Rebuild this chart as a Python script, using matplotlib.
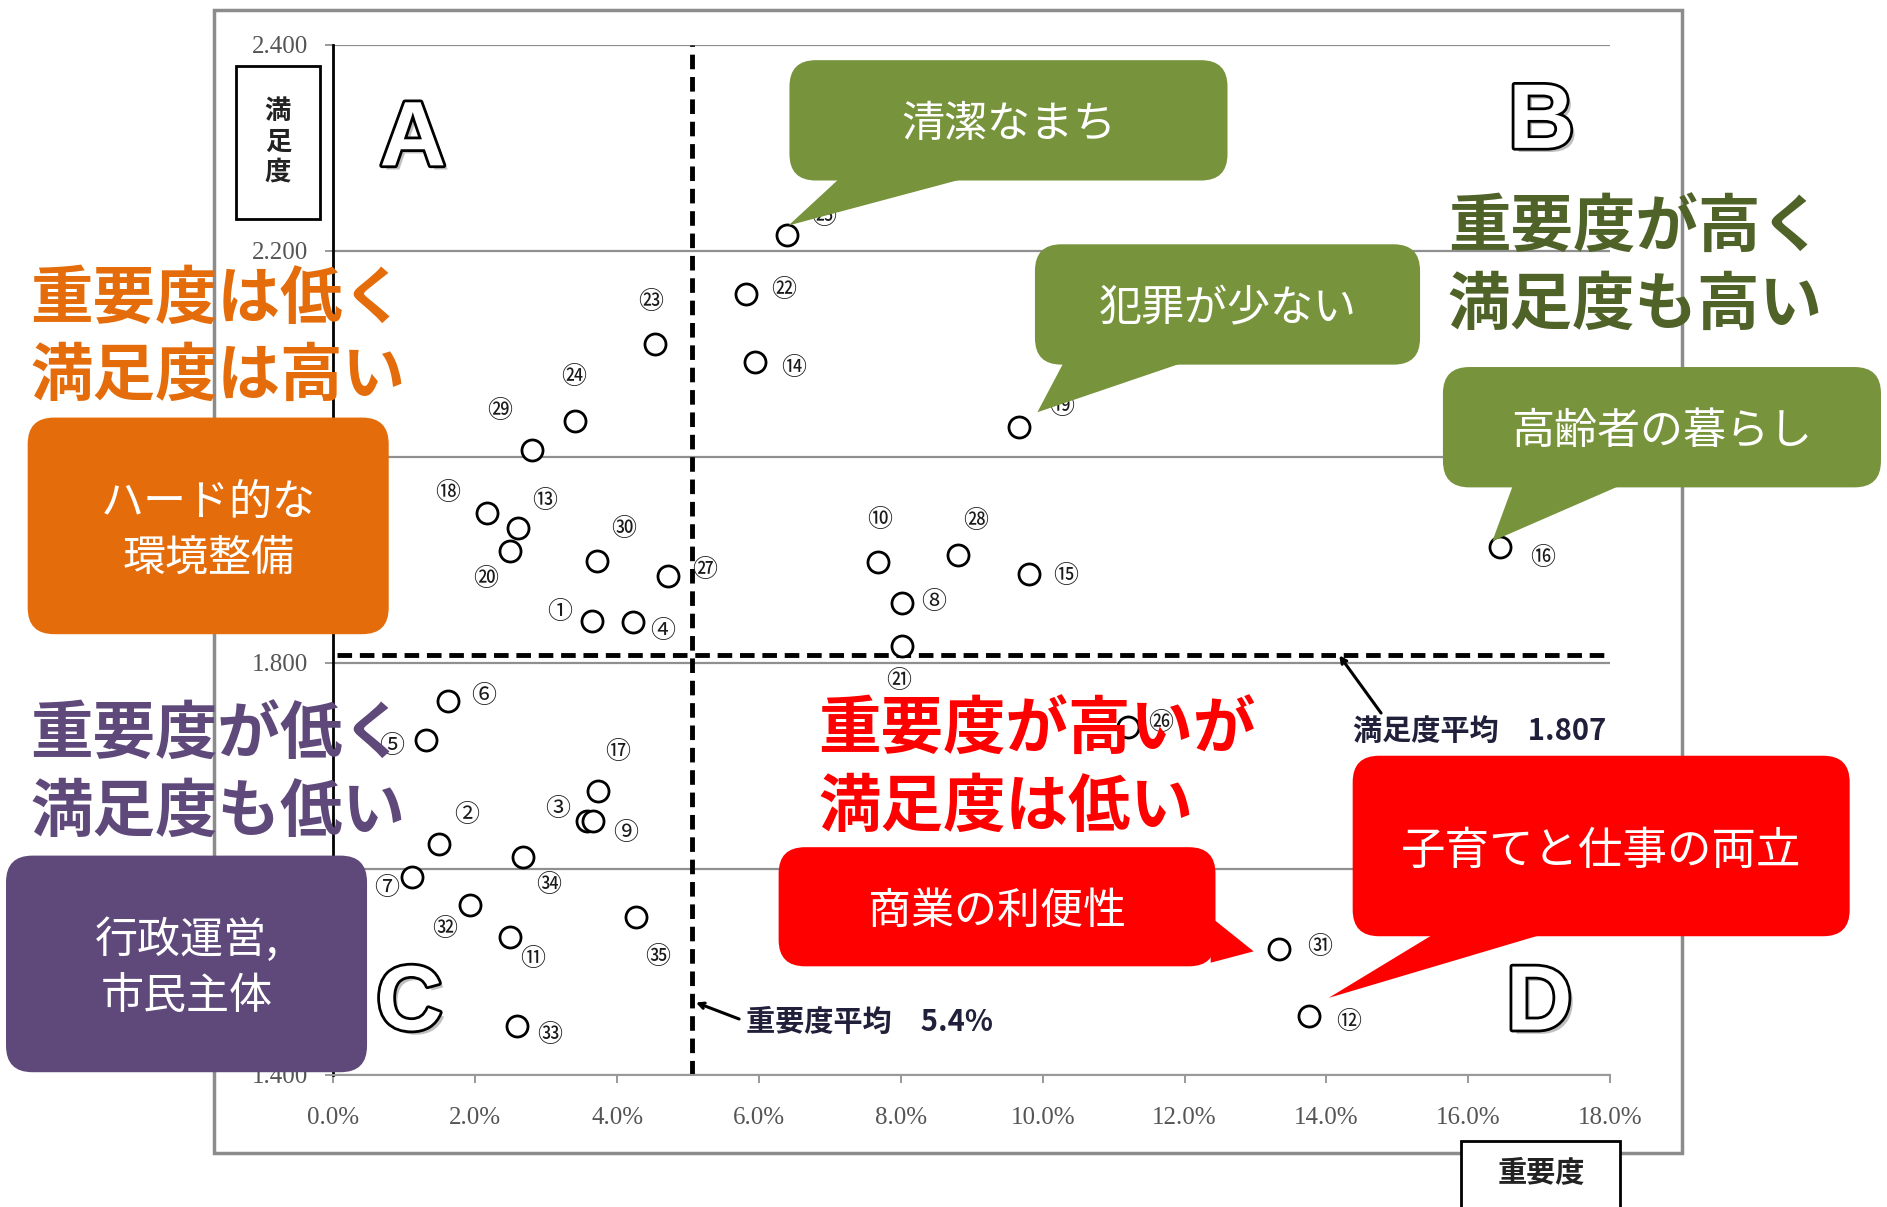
import matplotlib
matplotlib.use('Agg')
import matplotlib.pyplot as plt
import matplotlib.patheffects as pe
from matplotlib.patches import FancyBboxPatch, Polygon, Rectangle

plt.rcParams['font.family'] = ['Noto Sans CJK JP', 'DejaVu Sans']

# --- data ---
item_no = list(range(1, 36))
importance = [3.65, 1.49, 3.57, 4.22, 1.30, 1.61, 1.11, 8.01, 3.66, 7.68,
              2.49, 13.76, 2.61, 5.95, 9.80, 16.44, 3.73, 2.17, 9.67, 2.49,
              8.01, 5.82, 4.53, 3.41, 6.40, 11.20, 4.72, 8.80, 2.80, 3.72,
              13.33, 1.92, 2.59, 2.68, 4.27]
satisfaction = [1.840, 1.624, 1.646, 1.839, 1.725, 1.763, 1.592, 1.858, 1.646, 1.898,
                1.534, 1.457, 1.931, 2.092, 1.886, 1.912, 1.675, 1.945, 2.029, 1.908,
                1.816, 2.158, 2.109, 2.035, 2.215, 1.737, 1.884, 1.904, 2.006, 1.899,
                1.522, 1.565, 1.447, 1.611, 1.553]
importance_line = 5.05      # where the dashed line is drawn in the source
importance_mean_text = '5.4%'
satisfaction_mean = 1.807

x_ticks = [0, 2, 4, 6, 8, 10, 12, 14, 16, 18]
y_ticks = [1.4, 1.6, 1.8, 2.0, 2.2, 2.4]
x_tick_labels = [f'{v:.1f}%' for v in x_ticks]
y_tick_labels = [f'{v:.3f}' for v in y_ticks]

# label offsets around each circle (reference px, +dy = down)
label_offsets = [(-27, -8), (23, -24), (-24, -10), (25, 7), (-28, 5), (30, -4), (-21, 9),
                 (27, -1), (27, 10), (1, -35), (19, 19), (33, 5), (22, -22), (32, 5),
                 (31, 2), (36, 9), (16, -33), (-33, -17), (35, -16), (-20, 23), (-2, 29),
                 (31, -3), (-3, -35), (-1, -36), (30, -15), (27, -4), (30, -5), (15, -29),
                 (-27, -33), (22, -26), (34, -2), (-21, 20), (27, 7), (21, 23), (18, 33)]

W, H = 1568, 1003   # reference frame used for layout


def fx(px):
    return px / W


def fy(py):
    return 1 - py / H


def circled(n):
    return chr(0x2460 + n - 1) if n <= 20 else chr(0x3251 + n - 21)


PX2PT = 1887 / W * 72 / 100

fig = plt.figure(figsize=(18.87, 12.07), dpi=100)
fig.patch.set_facecolor('white')

# outer chart frame
fig.add_artist(Rectangle((fx(178), fy(958)), fx(1398) - fx(178), fy(8) - fy(958),
                         transform=fig.transFigure, fill=False, ec='#8c8c8c', lw=2.5, zorder=0.5))

ax = fig.add_axes([fx(277), fy(893), fx(1338) - fx(277), fy(37) - fy(893)])
ax.set_xlim(0, 18)
ax.set_ylim(1.4, 2.4)
ax.set_xticks(x_ticks, x_tick_labels, fontfamily='Liberation Serif', fontsize=18, color='#555555')
ax.set_yticks(y_ticks, y_tick_labels, fontfamily='Liberation Serif', fontsize=18, color='#555555')
ax.tick_params(axis='both', direction='out', length=6, width=1.2, color='#888888', pad=12)
ax.tick_params(axis='x', pad=17)
ax.yaxis.grid(True, color='#8f8f8f', lw=1.6)
ax.set_axisbelow(True)
for s in ['top', 'right']:
    ax.spines[s].set_visible(False)
ax.spines['left'].set_color('black')
ax.spines['left'].set_linewidth(2)
ax.spines['bottom'].set_color('#999999')
ax.spines['bottom'].set_linewidth(1.5)

ax.axvline(importance_line, color='black', lw=3.5, ls=(0, (3, 1.6)), zorder=2)
ax.plot([0.05, 18], [satisfaction_mean, satisfaction_mean], color='black', lw=3.5,
        ls=(0, (3, 1.6)), zorder=2)

ax.scatter(importance, satisfaction, s=230, facecolors='white', edgecolors='black',
           linewidths=2, zorder=3)
for n, x, y, (dx, dy) in zip(item_no, importance, satisfaction, label_offsets):
    ax.annotate(circled(n), (x, y), xytext=(dx * PX2PT, -dy * PX2PT), textcoords='offset points',
                ha='center', va='center', fontsize=18, color='#1a1a1a', zorder=4)

# mean annotations
ax.annotate('', xy=(14.18, satisfaction_mean), xytext=(14.77, 1.751),
            arrowprops=dict(arrowstyle='->', lw=2.2, color='black', shrinkA=0, shrinkB=0))
ax.text(14.38, 1.734, f'満足度平均　{satisfaction_mean:.3f}', va='center', ha='left',
        fontsize=21, color='#20203a', fontweight='bold')
ax.annotate('', xy=(5.11, 1.470), xytext=(5.72, 1.454),
            arrowprops=dict(arrowstyle='->', lw=2.2, color='black', shrinkA=0, shrinkB=0))
ax.text(5.82, 1.451, f'重要度平均　{importance_mean_text}', va='center', ha='left',
        fontsize=21, color='#20203a', fontweight='bold')

# quadrant letters
outline = [pe.withSimplePatchShadow(offset=(3, -3), alpha=0.35),
           pe.withStroke(linewidth=4, foreground='black')]
for letter, lx, ly in [('A', 1.12, 2.306), ('B', 17.03, 2.323), ('C', 1.07, 1.467), ('D', 17.0, 1.467)]:
    ax.text(lx, ly, letter, ha='center', va='center', fontsize=66, fontweight='bold',
            fontfamily='Liberation Sans', color='white', path_effects=outline, zorder=2)

# axis title boxes
fig.add_artist(Rectangle((fx(196), fy(182)), fx(266) - fx(196), fy(55) - fy(182),
                         transform=fig.transFigure, fc='white', ec='black', lw=2, zorder=2))
fig.text(fx(231), fy(118), '満\n足\n度', ha='center', va='center', fontsize=19,
         fontweight='bold', linespacing=1.15, color='#222222', zorder=3)
fig.add_artist(Rectangle((fx(1214), fy(1010)), fx(1346) - fx(1214), fy(948) - fy(1010),
                         transform=fig.transFigure, fc='white', ec='black', lw=2, zorder=2))
fig.text(fx(1281), fy(974), '重要度', ha='center', va='center', fontsize=21,
         fontweight='bold', color='#222222', zorder=3)

# callouts
GREEN, RED, ORANGE, PURPLE = '#77933C', '#FF0000', '#E46C0A', '#5F497A'


def point_px(i, ox, oy):
    # data point -> reference px, shifted by (ox, oy)
    dx, dy = ax.transData.transform((importance[i - 1], satisfaction[i - 1]))
    fxv, fyv = fig.transFigure.inverted().transform((dx, dy))
    return fxv * W + ox, (1 - fyv) * H + oy


def callout(box, text, color, base=None, tip=None, fontsize=31):
    x0, y0, x1, y1 = box
    fig.add_artist(FancyBboxPatch((fx(x0), fy(y1)), fx(x1) - fx(x0), fy(y0) - fy(y1),
                                  boxstyle='round,pad=0,rounding_size=0.014',
                                  mutation_aspect=1887 / 1207, transform=fig.transFigure,
                                  fc=color, ec='none', zorder=6))
    if base is not None:
        pts = [(fx(base[0][0]), fy(base[0][1])), (fx(base[1][0]), fy(base[1][1])),
               (fx(tip[0]), fy(tip[1]))]
        fig.add_artist(Polygon(pts, closed=True, transform=fig.transFigure,
                               fc=color, ec='none', zorder=6))
    fig.text(fx((x0 + x1) / 2), fy((y0 + y1) / 2 + 4), text, ha='center', va='center',
             color='white', fontsize=fontsize, linespacing=1.35, zorder=7)


fig.canvas.draw()
callout((656, 50, 1020, 150), '清潔なまち', GREEN, [(700, 146), (810, 146)], point_px(25, 1, -8))
callout((860, 203, 1180, 303), '犯罪が少ない', GREEN, [(885, 299), (990, 299)], point_px(19, 15, -12))
callout((1199, 305, 1563, 405), '高齢者の暮らし', GREEN, [(1258, 401), (1352, 401)], point_px(16, -6, -5))
callout((647, 704, 1010, 803), '商業の利便性', RED, [(1006, 762), (1006, 800)], point_px(31, -21, 2))
callout((1124, 628, 1537, 778), '子育てと仕事の両立', RED, [(1195, 774), (1290, 774)], point_px(12, 16, -15),
        fontsize=32)
callout((23, 347, 323, 527), 'ハード的な\n環境整備', ORANGE)
callout((5, 711, 305, 891), '行政運営,\n市民主体', PURPLE)

# quadrant headings
for text, x, y, color in [('重要度は低く\n満足度は高い', 25, 281, ORANGE),
                          ('重要度が高く\n満足度も高い', 1203, 222, '#4F6228'),
                          ('重要度が低く\n満足度も低い', 25, 643, PURPLE),
                          ('重要度が高いが\n満足度は低い', 680, 639, RED)]:
    fig.text(fx(x), fy(y), text, ha='left', va='center', color=color, fontsize=45,
             fontweight='bold', linespacing=1.28, zorder=8)

fig.savefig('out.png', dpi=100)
